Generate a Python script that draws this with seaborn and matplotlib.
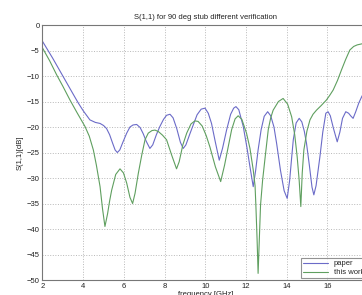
import seaborn as sns
import matplotlib
matplotlib.use("Agg")
import matplotlib.pyplot as plt
import pandas as pd

# values (frequency in GHz, S11 in dB)
freq_paper = [2.0, 2.5, 3.0, 3.5, 3.76, 4.0, 4.33, 4.6, 4.83, 5.0, 5.15, 5.3, 5.45, 5.57, 5.68, 5.8, 5.95,
              6.14, 6.3, 6.45, 6.63, 6.8, 6.95, 7.1, 7.28, 7.42, 7.6, 7.77, 7.95, 8.1, 8.27, 8.42, 8.6,
              8.78, 8.92, 9.05, 9.25, 9.41, 9.6, 9.8, 9.99, 10.15, 10.31, 10.5, 10.69, 10.85, 11.05,
              11.25, 11.4, 11.51, 11.65, 11.87, 12.05, 12.2, 12.36, 12.48, 12.6, 12.75, 12.9, 13.07,
              13.22, 13.38, 13.51, 13.7, 13.88, 14.03, 14.15, 14.25, 14.33, 14.47, 14.62, 14.75, 14.87,
              14.98, 15.12, 15.25, 15.34, 15.45, 15.55, 15.64, 15.78, 15.93, 16.04, 16.15, 16.3, 16.49,
              16.62, 16.75, 16.91, 17.05, 17.15, 17.27, 17.4, 17.55, 17.7, 17.85, 18.0]
s11_paper = [-3.2, -6.5, -10.0, -13.5, -15.3, -16.8, -18.6, -19.1, -19.3, -19.7, -20.3, -21.5, -23.2, -24.5,
             -25.0, -24.5, -23.0, -21.2, -20.0, -19.6, -19.5, -20.1, -21.3, -22.8, -24.2, -23.5, -21.5,
             -19.9, -18.5, -17.7, -17.5, -18.2, -20.3, -23.0, -24.2, -23.5, -21.3, -19.6, -17.6, -16.5,
             -16.3, -17.3, -19.3, -23.0, -26.5, -24.2, -20.6, -17.5, -16.3, -16.0, -16.6, -19.9, -24.0,
             -27.8, -31.7, -28.5, -24.5, -20.5, -17.9, -17.0, -17.8, -20.0, -23.2, -28.5, -32.5, -34.0,
             -30.5, -26.0, -22.5, -19.2, -18.3, -19.0, -20.8, -23.2, -27.5, -31.8, -33.3, -31.5, -28.5,
             -25.8, -21.0, -17.3, -17.0, -17.8, -20.2, -22.9, -21.0, -18.3, -17.0, -17.3, -17.8, -18.3,
             -17.0, -15.3, -14.0, -13.0, -12.3]

freq_work = [2.0, 2.35, 2.7, 3.0, 3.35, 3.7, 4.09, 4.3, 4.5, 4.65, 4.83, 4.95, 5.07, 5.2, 5.3, 5.4, 5.6,
             5.81, 5.98, 6.14, 6.3, 6.43, 6.55, 6.71, 6.88, 7.04, 7.2, 7.38, 7.53, 7.7, 7.9, 8.1, 8.35,
             8.59, 8.72, 8.9, 9.09, 9.3, 9.49, 9.65, 9.85, 10.05, 10.23, 10.5, 10.76, 10.95, 11.13, 11.3,
             11.47, 11.62, 11.8, 12.03, 12.2, 12.36, 12.45, 12.49, 12.55, 12.6, 12.66, 12.72, 12.82,
             12.93, 13.1, 13.22, 13.34, 13.6, 13.83, 14.05, 14.25, 14.4, 14.52, 14.62, 14.7, 14.77, 14.85,
             15.0, 15.15, 15.3, 15.47, 15.7, 15.96, 16.12, 16.29, 16.5, 16.7, 16.9, 17.11, 17.3, 17.47,
             17.69, 18.0]
s11_work = [-4.5, -7.0, -9.8, -12.0, -14.7, -17.2, -19.9, -21.8, -24.5, -27.5, -31.7, -36.0, -39.5, -37.0,
            -34.5, -32.4, -29.3, -28.2, -29.0, -31.0, -33.8, -35.0, -33.0, -29.1, -25.5, -22.5, -21.2,
            -20.7, -20.6, -20.9, -21.6, -22.5, -25.5, -28.2, -26.8, -23.5, -21.2, -19.4, -18.8, -18.9,
            -19.8, -21.7, -23.9, -27.8, -30.7, -27.5, -23.9, -20.5, -18.4, -17.8, -18.5, -21.2, -24.2,
            -28.4, -31.5, -35.3, -42.0, -48.7, -42.0, -35.3, -30.5, -26.5, -20.5, -18.2, -16.7, -15.0,
            -14.4, -15.5, -18.0, -21.5, -25.8, -30.5, -35.6, -29.0, -24.5, -20.8, -18.6, -17.5, -16.7,
            -15.8, -14.7, -13.8, -12.75, -10.9, -8.8, -6.8, -4.9, -4.2, -3.9, -3.7, -3.5]

names = ["paper", "this work"]
colors = ["#6b6bc8", "#5f9f5f"]
xticks = [2, 4, 6, 8, 10, 12, 14, 16]
yticks = list(range(-50, 1, 5))

df = pd.concat([
    pd.DataFrame({"freq": freq_paper, "s11": s11_paper, "serie": names[0]}),
    pd.DataFrame({"freq": freq_work, "s11": s11_work, "serie": names[1]}),
])

sns.set_style("white")
plt.rcParams["font.family"] = ["Liberation Sans", "DejaVu Sans"]

fig = plt.figure(figsize=(3.62, 2.95), dpi=100)
ax = fig.add_axes([0.1174, 0.0508, 0.899, 0.8644])

sns.lineplot(data=df, x="freq", y="s11", hue="serie", palette=colors, linewidth=0.8,
             sort=False, estimator=None, ax=ax)

ax.set_xlim(2, 18)
ax.set_ylim(-50, 0)
ax.set_xticks(xticks)
ax.set_yticks(yticks)
# grid line at 18 sits on the (cropped) right edge
ax.axvline(18, linestyle=":", color="#b8b8b8", linewidth=0.7)
ax.grid(True, linestyle=":", color="#b8b8b8", linewidth=0.7)
ax.tick_params(direction="in", length=2, labelsize=5.5, colors="#555555", labelcolor="#222222", pad=2)
for s in ax.spines.values():
    s.set_color("#777777")
    s.set_linewidth(0.8)

ax.set_title("S(1,1) for 90 deg stub different verification", fontsize=5.5, pad=4, color="#222222")
ax.set_xlabel("frequency [GHz]", fontsize=5.5, labelpad=1, color="#222222")
ax.set_ylabel("S(1,1)[dB]", fontsize=5.5, labelpad=2, color="#222222")

leg = ax.legend(loc="lower right", fontsize=5.5, frameon=True, fancybox=False, borderaxespad=0.2,
                handlelength=3.2, borderpad=0.3, labelspacing=0.2)
leg.get_frame().set_edgecolor("#777777")
leg.get_frame().set_linewidth(0.8)

fig.savefig("out.png", dpi=100, facecolor="white")
